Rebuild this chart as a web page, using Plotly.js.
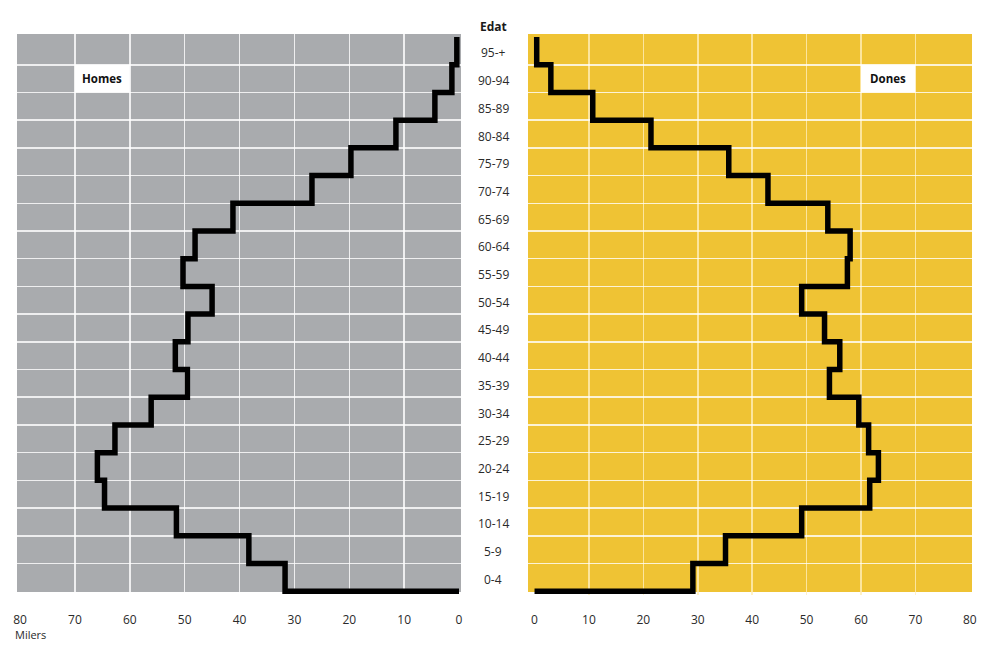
<!DOCTYPE html>
<html>
<head>
<meta charset="utf-8">
<script src="https://cdn.plot.ly/plotly-3.0.1.min.js"></script>
<style>html,body{margin:0;padding:0;background:#fff;}#chart{width:981px;height:645px;}</style>
</head>
<body>
<div id="chart"></div>
<script>
// Age groups, bottom to top
const ages = ['0-4','5-9','10-14','15-19','20-24','25-29','30-34','35-39','40-44','45-49',
              '50-54','55-59','60-64','65-69','70-74','75-79','80-84','85-89','90-94','95-+'];
// Thousands (Milers)
const homes = [31.7,38.3,51.5,64.6,65.9,62.7,56.1,49.5,51.7,49.4,45.0,50.3,48.1,41.2,26.8,19.7,11.5,4.4,1.3,0.4];
const dones = [29.1,35.1,49.1,61.6,63.2,61.4,59.6,54.2,56.1,53.3,49.1,57.5,58.0,53.9,42.9,35.7,21.4,10.7,3.0,0.4];
const xTicks = [0,10,20,30,40,50,60,70,80];
const xGrid = [10,20,30,40,50,60,70];

function stepPath(vals){
  const xs=[], ys=[];
  for(let i=vals.length-1;i>=0;i--){
    xs.push(vals[i], vals[i]); ys.push(i+1, i);
  }
  xs.push(0); ys.push(0);
  return {x:xs, y:ys};
}
const pH = stepPath(homes), pD = stepPath(dones);

const W=981, H=645;
const px = v => v/W, py = v => 1 - v/H;

const traces = [
  {x:pH.x, y:pH.y, xaxis:'x', yaxis:'y', mode:'lines', line:{color:'#000', width:5.5}, hoverinfo:'skip', showlegend:false},
  {x:pD.x, y:pD.y, xaxis:'x2', yaxis:'y', mode:'lines', line:{color:'#000', width:5.5}, hoverinfo:'skip', showlegend:false}
];

const tickFont = {family:'Open Sans, sans-serif', size:12, color:'#2a2a2a'};
const xCommon = {
  tickvals: xTicks, ticktext: xTicks.map(String), showgrid:false, zeroline:false, showline:false,
  ticks:'outside', ticklen:14, tickcolor:'rgba(0,0,0,0)', tickfont: tickFont, anchor:'y', fixedrange:true
};

const annotations = ages.map((a,i)=>({
  xref:'paper', yref:'y', x:px(493), y:i+0.5, yshift:-2, text:a, showarrow:false,
  xanchor:'center', yanchor:'middle', font:{family:'Open Sans, sans-serif', size:12, color:'#2a2a2a'}
}));
annotations.push(
  {xref:'paper', yref:'paper', x:px(493), y:py(26), text:'<b>Edat</b>', showarrow:false, xanchor:'center', yanchor:'middle',
   font:{family:'Open Sans, sans-serif', size:12, color:'#1a1a1a'}},
  {xref:'paper', yref:'paper', x:px(13), y:py(644), text:'Milers', showarrow:false, xanchor:'left', yanchor:'bottom',
   font:{family:'Open Sans, sans-serif', size:11, color:'#2a2a2a'}},
  {xref:'x', yref:'y', x:65, y:18.5, text:'<b>Homes</b>', showarrow:false, xanchor:'center', yanchor:'middle',
   font:{family:'Open Sans, sans-serif', size:11.5, color:'#111'}},
  {xref:'x2', yref:'y', x:65, y:18.5, text:'<b>Dones</b>', showarrow:false, xanchor:'center', yanchor:'middle',
   font:{family:'Open Sans, sans-serif', size:11.5, color:'#111'}}
);

const shapes = [
  {type:'rect', xref:'paper', yref:'paper', x0:px(17), x1:px(461), y0:py(592), y1:py(34), fillcolor:'#a9abae', line:{width:0}, layer:'below'},
  {type:'rect', xref:'paper', yref:'paper', x0:px(528), x1:px(972), y0:py(592), y1:py(34), fillcolor:'#efc334', line:{width:0}, layer:'below'},
  {type:'rect', xref:'x', yref:'y', x0:70, x1:60, y0:18, y1:19, fillcolor:'#ffffff', line:{width:0}, layer:'between'},
  {type:'rect', xref:'x2', yref:'y', x0:60, x1:70, y0:18, y1:19, fillcolor:'#ffffff', line:{width:0}, layer:'between'}
];

const layout = {
  width:W, height:H, margin:{l:0,r:0,t:0,b:0},
  paper_bgcolor:'#ffffff', plot_bgcolor:'rgba(0,0,0,0)', showlegend:false,
  font:{family:'Open Sans, sans-serif'},
  xaxis: Object.assign({}, xCommon, {domain:[px(17), px(461)], range:[80.55,-0.36],
          minor:{tickvals:xGrid, showgrid:true, gridcolor:'rgba(255,255,255,0.8)', gridwidth:1.5, ticks:''}}),
  xaxis2: Object.assign({}, xCommon, {domain:[px(528), px(972)], range:[-1.2,80.4],
          minor:{tickvals:xGrid, showgrid:true, gridcolor:'rgba(255,238,185,0.8)', gridwidth:1.5, ticks:''}}),
  yaxis: {domain:[py(594.5), py(34)], range:[-0.12,20.11], tickvals:ages.slice(1).map((a,i)=>i+1),
          showticklabels:false, ticks:'', showgrid:true, gridcolor:'rgba(255,255,255,0.8)', gridwidth:1.5,
          zeroline:false, showline:false, anchor:'x', fixedrange:true},
  shapes: shapes,
  annotations: annotations
};

Plotly.newPlot('chart', traces, layout, {staticPlot:true, displayModeBar:false});
</script>
</body>
</html>
